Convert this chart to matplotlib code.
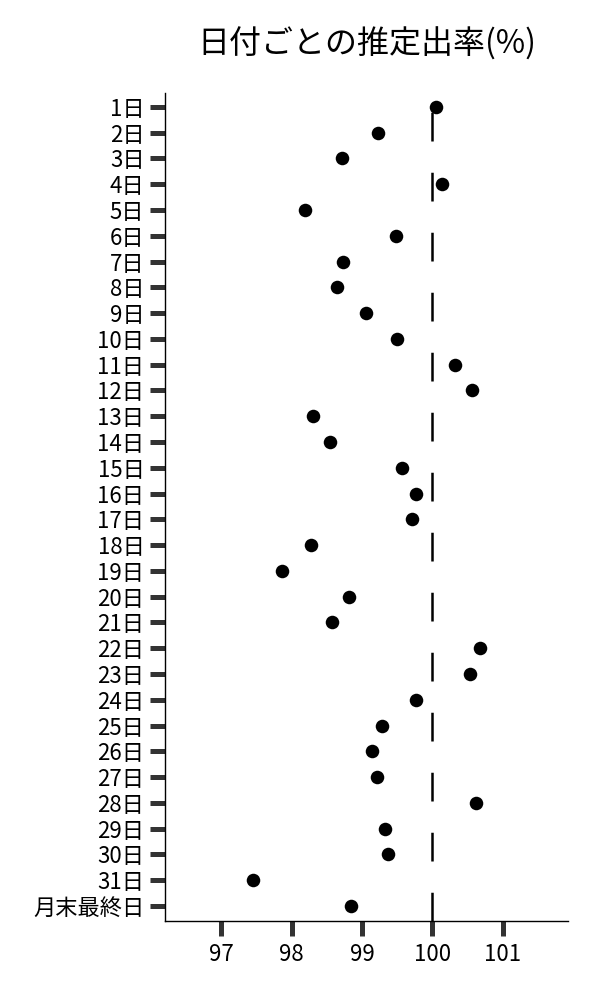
import matplotlib
matplotlib.use('Agg')
import matplotlib.pyplot as plt

plt.rcParams['font.family'] = ['Noto Sans CJK JP', 'DejaVu Sans']

days = [str(i) + '日' for i in range(1, 32)] + ['月末最終日']
rates = [100.05, 99.23, 98.72, 100.14, 98.19, 99.48, 98.73, 98.65, 99.06, 99.49,
         100.32, 100.56, 98.31, 98.55, 99.57, 99.77, 99.71, 98.28, 97.86, 98.81,
         98.58, 100.67, 100.53, 99.76, 99.29, 99.14, 99.21, 100.62, 99.32, 99.37,
         97.45, 98.84]
ref_value = 100
xticks = [97, 98, 99, 100, 101]

fig = plt.figure(figsize=(6, 10), dpi=100)
ax = fig.add_axes([0.275, 0.079, 0.672, 0.828])

ypos = list(range(len(days)))
# reference line, dashes counted up from the bottom axis
ax.axvline(ref_value, ymin=0, ymax=0.989, color='black', linewidth=1.8,
           linestyle=(0, (11.5, 12.5)), zorder=1)
ax.scatter(rates, ypos, s=95, color='black', zorder=3, linewidths=0)

ax.set_yticks(ypos)
ax.set_yticklabels(days)
ax.set_xticks(xticks)
ax.set_xticklabels([str(v) for v in xticks])
ax.set_ylim(31.58, -0.54)
ax.set_xlim(96.20, 101.93)

for side in ['top', 'right']:
    ax.spines[side].set_visible(False)
for side in ['left', 'bottom']:
    ax.spines[side].set_linewidth(1.0)
    ax.spines[side].set_color('black')

ax.tick_params(axis='both', which='major', direction='out', length=10.8,
               width=3.6, color='#333333', labelsize=16, labelcolor='black', pad=4)
ax.tick_params(axis='x', pad=5)

ax.set_title('日付ごとの推定出率(%)', fontsize=23, pad=28)

fig.savefig('out.png', dpi=100)
